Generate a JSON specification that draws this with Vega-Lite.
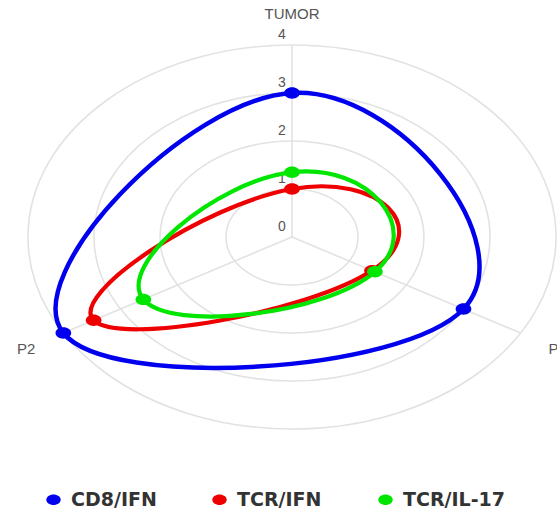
{
  "$schema": "https://vega.github.io/schema/vega-lite/v6.json",
  "width": 557,
  "height": 513,
  "padding": 0,
  "autosize": {"type": "none"},
  "background": "white",
  "config": {"view": {"stroke": null}},
  "datasets": {
    "scores": [
      {"series": "CD8/IFN", "axis": "TUMOR", "value": 3.0},
      {"series": "CD8/IFN", "axis": "P1", "value": 3.0},
      {"series": "CD8/IFN", "axis": "P2", "value": 4.0},
      {"series": "TCR/IFN", "axis": "TUMOR", "value": 1.0},
      {"series": "TCR/IFN", "axis": "P1", "value": 1.4},
      {"series": "TCR/IFN", "axis": "P2", "value": 3.47},
      {"series": "TCR/IL-17", "axis": "TUMOR", "value": 1.35},
      {"series": "TCR/IL-17", "axis": "P1", "value": 1.45},
      {"series": "TCR/IL-17", "axis": "P2", "value": 2.6}
    ],
    "axes": [
      {"axis": "TUMOR", "i": 0},
      {"axis": "P1", "i": 1},
      {"axis": "P2", "i": 2}
    ],
    "rings": [{"r": 0}, {"r": 1}, {"r": 2}, {"r": 3}, {"r": 4}]
  },
  "layer": [
    {
      "data": {"name": "rings"},
      "transform": [{"filter": "datum.r > 0"}],
      "mark": {
        "type": "point",
        "filled": false,
        "shape": "M -1.375 0 C -1.375 -0.552 -0.759 -1 0 -1 C 0.759 -1 1.375 -0.552 1.375 0 C 1.375 0.552 0.759 1 0 1 C -0.759 1 -1.375 0.552 -1.375 0 Z",
        "stroke": "#e2e2e2",
        "strokeWidth": 1.6,
        "opacity": 1
      },
      "encoding": {
        "x": {"datum": 0, "type": "quantitative", "scale": {"domain": [-4.424, 4.015], "nice": false, "zero": false}, "axis": null},
        "y": {"datum": 0, "type": "quantitative", "scale": {"domain": [-5.75, 4.9375], "nice": false, "zero": false}, "axis": null},
        "size": {"field": "r", "type": "quantitative", "scale": {"type": "pow", "exponent": 2, "domain": [0, 4], "range": [0, 147456]}, "legend": null}
      }
    },
    {
      "data": {"name": "axes"},
      "transform": [
        {"calculate": "PI/2 - datum.i*2*PI/3", "as": "th"},
        {"calculate": "4*cos(datum.th)", "as": "ex"},
        {"calculate": "4*sin(datum.th)", "as": "ey"}
      ],
      "mark": {"type": "rule", "stroke": "#e2e2e2", "strokeWidth": 1.6},
      "encoding": {
        "x": {"field": "ex", "type": "quantitative", "scale": {"domain": [-4.424, 4.015], "nice": false, "zero": false}, "axis": null},
        "y": {"field": "ey", "type": "quantitative", "scale": {"domain": [-5.75, 4.9375], "nice": false, "zero": false}, "axis": null},
        "x2": {"datum": 0},
        "y2": {"datum": 0}
      }
    },
    {
      "data": {"name": "axes"},
      "transform": [
        {"calculate": "PI/2 - datum.i*2*PI/3", "as": "th"},
        {"calculate": "4.65*cos(datum.th)", "as": "lx"},
        {"calculate": "4.65*sin(datum.th)", "as": "ly"}
      ],
      "mark": {"type": "text", "font": "Liberation Sans", "fontSize": 15, "fill": "#555555", "align": "center", "baseline": "middle"},
      "encoding": {
        "x": {"field": "lx", "type": "quantitative", "scale": {"domain": [-4.424, 4.015], "nice": false, "zero": false}, "axis": null},
        "y": {"field": "ly", "type": "quantitative", "scale": {"domain": [-5.75, 4.9375], "nice": false, "zero": false}, "axis": null},
        "text": {"field": "axis", "type": "nominal"}
      }
    },
    {
      "data": {"name": "rings"},
      "mark": {"type": "text", "font": "Liberation Sans", "fontSize": 14, "fill": "#555555", "align": "center", "baseline": "middle", "dx": -10, "dy": -10},
      "encoding": {
        "x": {"datum": 0, "type": "quantitative", "scale": {"domain": [-4.424, 4.015], "nice": false, "zero": false}, "axis": null},
        "y": {"field": "r", "type": "quantitative", "scale": {"domain": [-5.75, 4.9375], "nice": false, "zero": false}, "axis": null},
        "text": {"field": "r", "type": "quantitative"}
      }
    },
    {
      "data": {"name": "scores"},
      "transform": [
        {"filter": "datum.series == 'CD8/IFN'"},
        {"lookup": "axis", "from": {"data": {"name": "axes"}, "key": "axis", "fields": ["i"]}},
        {"calculate": "PI/2 - datum.i*2*PI/3", "as": "th"},
        {"calculate": "datum.value*cos(datum.th)", "as": "px"},
        {"calculate": "datum.value*sin(datum.th)", "as": "py"}
      ],
      "mark": {"type": "line", "interpolate": "cardinal-closed", "tension": -0.6, "strokeWidth": 4.5, "stroke": "#0000ee"},
      "encoding": {
        "x": {"field": "px", "type": "quantitative", "scale": {"domain": [-4.424, 4.015], "nice": false, "zero": false}, "axis": null},
        "y": {"field": "py", "type": "quantitative", "scale": {"domain": [-5.75, 4.9375], "nice": false, "zero": false}, "axis": null},
        "order": {"field": "i", "type": "quantitative"}
      }
    },
    {
      "data": {"name": "scores"},
      "transform": [
        {"filter": "datum.series == 'TCR/IFN'"},
        {"lookup": "axis", "from": {"data": {"name": "axes"}, "key": "axis", "fields": ["i"]}},
        {"calculate": "PI/2 - datum.i*2*PI/3", "as": "th"},
        {"calculate": "datum.value*cos(datum.th)", "as": "px"},
        {"calculate": "datum.value*sin(datum.th)", "as": "py"}
      ],
      "mark": {"type": "line", "interpolate": "cardinal-closed", "tension": -0.9, "strokeWidth": 4.2, "stroke": "#ee0000"},
      "encoding": {
        "x": {"field": "px", "type": "quantitative", "scale": {"domain": [-4.424, 4.015], "nice": false, "zero": false}, "axis": null},
        "y": {"field": "py", "type": "quantitative", "scale": {"domain": [-5.75, 4.9375], "nice": false, "zero": false}, "axis": null},
        "order": {"field": "i", "type": "quantitative"}
      }
    },
    {
      "data": {"name": "scores"},
      "transform": [
        {"filter": "datum.series == 'TCR/IL-17'"},
        {"lookup": "axis", "from": {"data": {"name": "axes"}, "key": "axis", "fields": ["i"]}},
        {"calculate": "PI/2 - datum.i*2*PI/3", "as": "th"},
        {"calculate": "datum.value*cos(datum.th)", "as": "px"},
        {"calculate": "datum.value*sin(datum.th)", "as": "py"}
      ],
      "mark": {"type": "line", "interpolate": "cardinal-closed", "tension": -1, "strokeWidth": 4.2, "stroke": "#00e600"},
      "encoding": {
        "x": {"field": "px", "type": "quantitative", "scale": {"domain": [-4.424, 4.015], "nice": false, "zero": false}, "axis": null},
        "y": {"field": "py", "type": "quantitative", "scale": {"domain": [-5.75, 4.9375], "nice": false, "zero": false}, "axis": null},
        "order": {"field": "i", "type": "quantitative"}
      }
    },
    {
      "data": {"name": "scores"},
      "transform": [
        {"lookup": "axis", "from": {"data": {"name": "axes"}, "key": "axis", "fields": ["i"]}},
        {"calculate": "PI/2 - datum.i*2*PI/3", "as": "th"},
        {"calculate": "datum.value*cos(datum.th)", "as": "px"},
        {"calculate": "datum.value*sin(datum.th)", "as": "py"}
      ],
      "mark": {
        "type": "point",
        "filled": true,
        "opacity": 1,
        "strokeWidth": 0,
        "size": 130,
        "shape": "M -1.375 0 C -1.375 -0.552 -0.759 -1 0 -1 C 0.759 -1 1.375 -0.552 1.375 0 C 1.375 0.552 0.759 1 0 1 C -0.759 1 -1.375 0.552 -1.375 0 Z"
      },
      "encoding": {
        "x": {"field": "px", "type": "quantitative", "scale": {"domain": [-4.424, 4.015], "nice": false, "zero": false}, "axis": null},
        "y": {"field": "py", "type": "quantitative", "scale": {"domain": [-5.75, 4.9375], "nice": false, "zero": false}, "axis": null},
        "color": {
          "field": "series",
          "type": "nominal",
          "scale": {"domain": ["CD8/IFN", "TCR/IFN", "TCR/IL-17"], "range": ["#0000ee", "#ee0000", "#00e600"]},
          "legend": {
            "title": null,
            "orient": "none",
            "legendX": 44,
            "legendY": 490,
            "direction": "horizontal",
            "gridAlign": "all",
            "columnPadding": 37,
            "labelOffset": 8,
            "padding": 0,
            "symbolSize": 110,
            "symbolStrokeWidth": 0,
            "symbolOpacity": 1,
            "symbolType": "M -1.375 0 C -1.375 -0.552 -0.759 -1 0 -1 C 0.759 -1 1.375 -0.552 1.375 0 C 1.375 0.552 0.759 1 0 1 C -0.759 1 -1.375 0.552 -1.375 0 Z",
            "labelFont": "DejaVu Sans",
            "labelFontSize": 19,
            "labelFontWeight": "bold",
            "labelColor": "#333333",
            "labelLimit": 300
          }
        }
      }
    }
  ]
}
